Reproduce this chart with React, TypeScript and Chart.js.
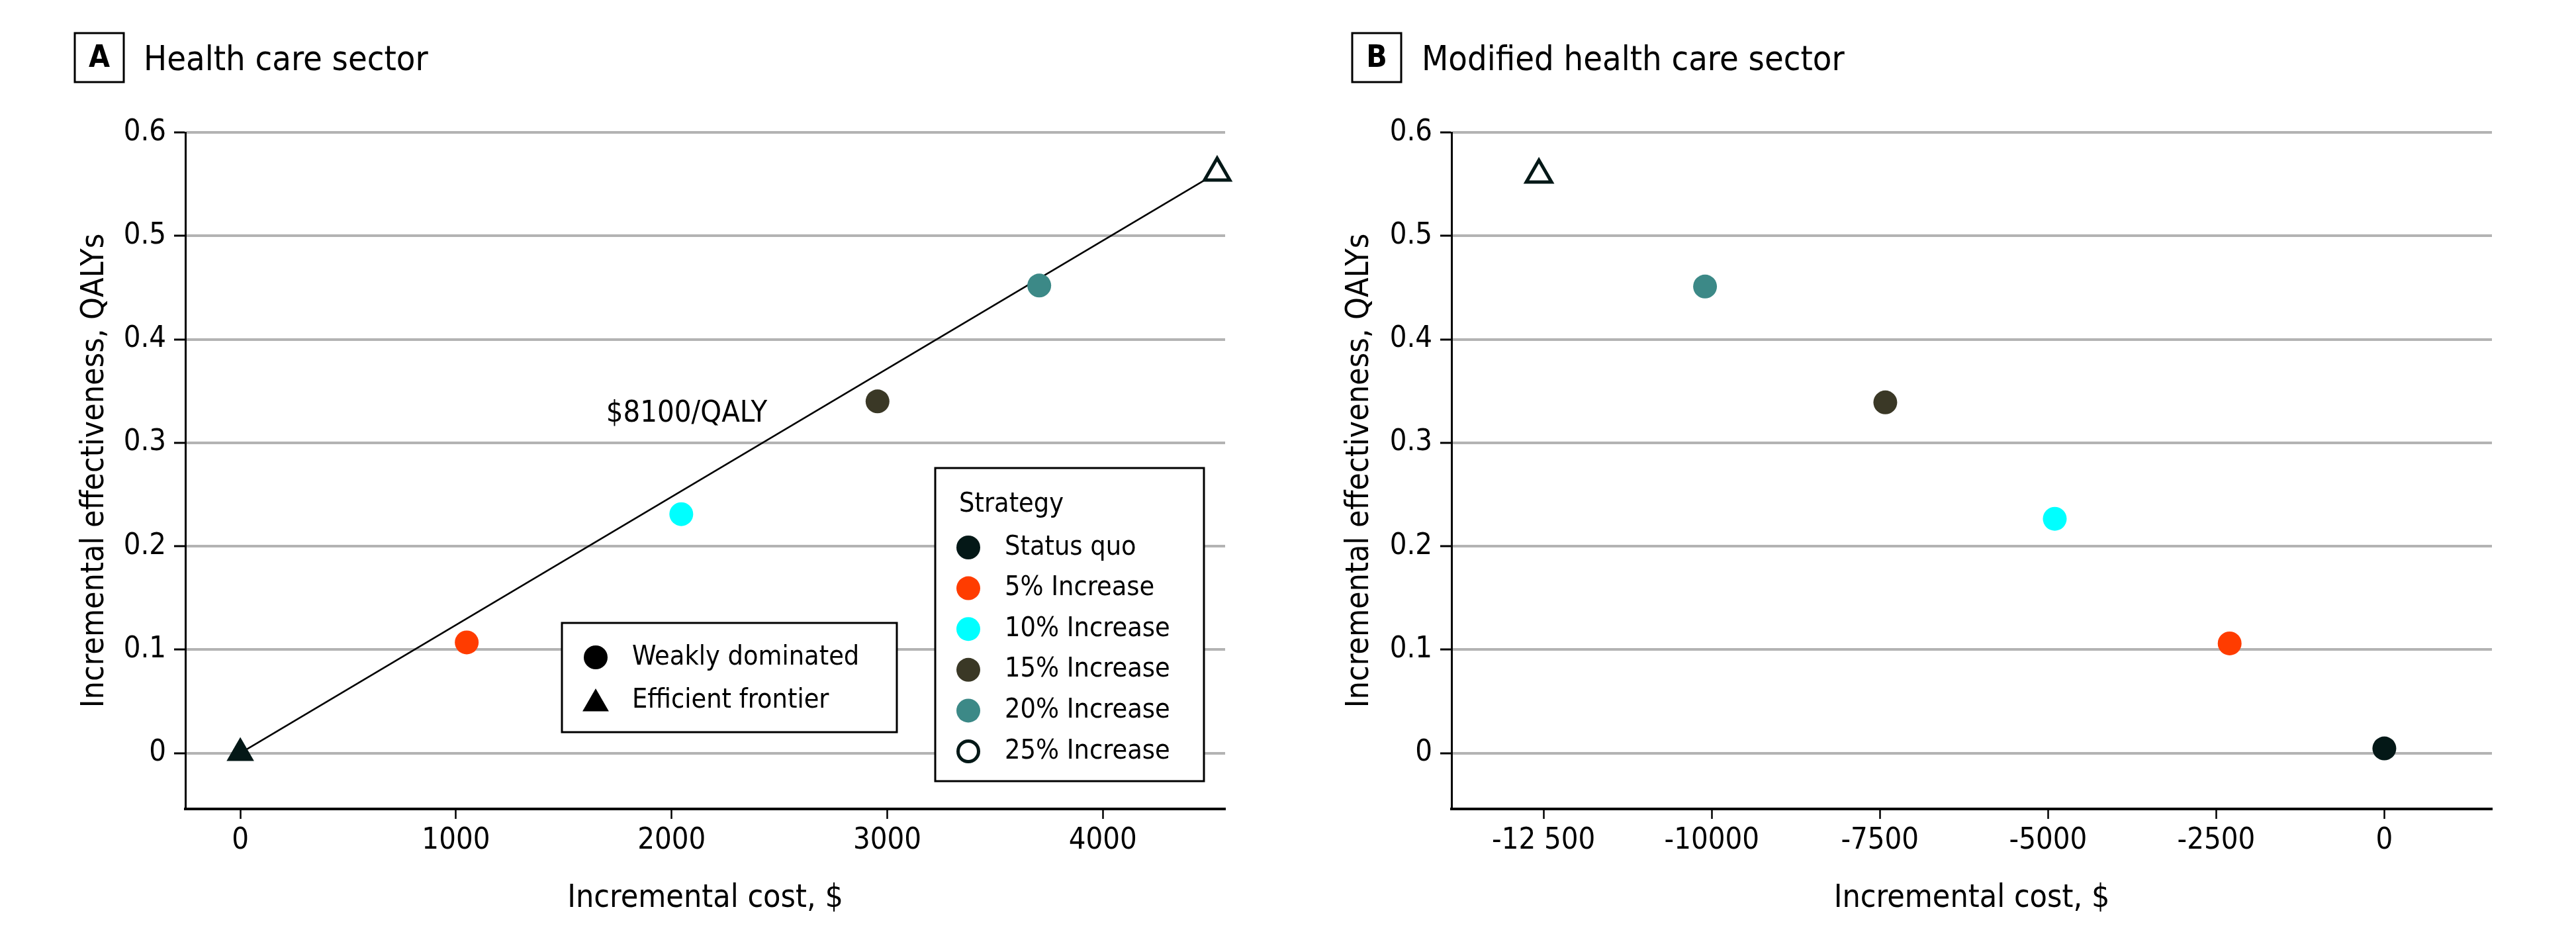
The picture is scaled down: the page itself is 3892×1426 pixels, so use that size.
import React, { useEffect, useRef } from "react";
import { Chart, registerables } from "chart.js";

Chart.register(...registerables);

const FONT = '"DejaVu Sans Condensed", "Liberation Sans Narrow", "DejaVu Sans", sans-serif';

// Strategies shared by both panels
const strategies = ["Status quo", "5% Increase", "10% Increase", "15% Increase", "20% Increase", "25% Increase"];
const strategyColors = ["#041817", "#ff3c00", "#00ffff", "#3a3826", "#3c8987", "#041817"];
const openMarker = [false, false, false, false, false, true];

// Panel A: health care sector
const costA = [0, 1050, 2045, 2955, 3705, 4530];
const qalyA = [0, 0.107, 0.231, 0.34, 0.452, 0.561];
const frontierA = [true, false, false, false, false, true];

// Panel B: modified health care sector
const costB = [0, -2300, -4900, -7420, -10100, -12570];
const qalyB = [0.0045, 0.106, 0.2265, 0.339, 0.451, 0.559];
const frontierB = [false, false, false, false, false, true];

// Axis ticks
const yTicks = [0, 0.1, 0.2, 0.3, 0.4, 0.5, 0.6];
const yTickLabels = ["0", "0.1", "0.2", "0.3", "0.4", "0.5", "0.6"];
const xTicksA = [0, 1000, 2000, 3000, 4000];
const xTickLabelsA = ["0", "1000", "2000", "3000", "4000"];
const xTicksB = [-12500, -10000, -7500, -5000, -2500, 0];
const xTickLabelsB = ["-12 500", "-10000", "-7500", "-5000", "-2500", "0"];

const icerLabel = "$8100/QALY";
const frontierLegend = ["Weakly dominated", "Efficient frontier"];

type Panel = {
  key: string;
  title: string;
  cost: number[];
  qaly: number[];
  frontier: boolean[];
  xTicks: number[];
  xTickLabels: string[];
  xMin: number;
  xMax: number;
  yAxisWidth: number;
  yTitlePad: number;
  rightPad: number;
  boxLeft: number;
  titleLeft: number;
  withLegends: boolean;
};

const panels: Panel[] = [
  {
    key: "A",
    title: "Health care sector",
    cost: costA,
    qaly: qalyA,
    frontier: frontierA,
    xTicks: xTicksA,
    xTickLabels: xTickLabelsA,
    xMin: -255,
    xMax: 4567,
    yAxisWidth: 280,
    yTitlePad: 115,
    rightPad: 95,
    boxLeft: 113,
    titleLeft: 217,
    withLegends: true,
  },
  {
    key: "B",
    title: "Modified health care sector",
    cost: costB,
    qaly: qalyB,
    frontier: frontierB,
    xTicks: xTicksB,
    xTickLabels: xTickLabelsB,
    xMin: -13870,
    xMax: 1600,
    yAxisWidth: 247,
    yTitlePad: 80,
    rightPad: 127,
    boxLeft: 97,
    titleLeft: 202,
    withLegends: false,
  },
];

function triangle(ctx: CanvasRenderingContext2D, x: number, y: number, r: number) {
  ctx.beginPath();
  ctx.moveTo(x, y - r);
  ctx.lineTo(x + 0.866 * r, y + 0.5 * r);
  ctx.lineTo(x - 0.866 * r, y + 0.5 * r);
  ctx.closePath();
}

function overlayPlugin(p: Panel) {
  return {
    id: "overlay" + p.key,
    afterDraw(chart: any) {
      const ctx: CanvasRenderingContext2D = chart.ctx;
      ctx.save();
      // Panel letter box and title
      ctx.strokeStyle = "#000";
      ctx.lineWidth = 3;
      ctx.strokeRect(p.boxLeft, 50, 74, 74);
      ctx.fillStyle = "#000";
      ctx.font = `bold 46px ${FONT}`;
      ctx.textAlign = "center";
      ctx.textBaseline = "middle";
      ctx.fillText(p.key, p.boxLeft + 37, 89);
      ctx.font = `52px ${FONT}`;
      ctx.textAlign = "left";
      ctx.textBaseline = "alphabetic";
      ctx.fillText(p.title, p.titleLeft, 106);

      if (p.withLegends) {
        const xs = chart.scales.x;
        const ys = chart.scales.y;
        // ICER annotation
        ctx.font = `45px ${FONT}`;
        ctx.textAlign = "center";
        ctx.textBaseline = "middle";
        ctx.fillText(icerLabel, xs.getPixelForValue(2070), ys.getPixelForValue(0.328));

        // Marker-shape legend
        ctx.fillStyle = "#fff";
        ctx.fillRect(849, 941, 506, 165);
        ctx.strokeStyle = "#000";
        ctx.lineWidth = 3;
        ctx.strokeRect(849, 941, 506, 165);
        ctx.fillStyle = "#000";
        ctx.beginPath();
        ctx.arc(900, 993, 18, 0, Math.PI * 2);
        ctx.fill();
        triangle(ctx, 900, 1063, 23);
        ctx.fill();
        ctx.font = `41px ${FONT}`;
        ctx.textAlign = "left";
        ctx.textBaseline = "middle";
        ctx.fillText(frontierLegend[0], 955, 993);
        ctx.fillText(frontierLegend[1], 955, 1058);

        // Strategy colour legend
        ctx.fillStyle = "#fff";
        ctx.fillRect(1413, 707, 406, 473);
        ctx.strokeStyle = "#000";
        ctx.lineWidth = 3;
        ctx.strokeRect(1413, 707, 406, 473);
        ctx.fillStyle = "#000";
        ctx.fillText("Strategy", 1449, 762);
        strategies.forEach((name, i) => {
          const y = 827 + i * 61.6;
          ctx.beginPath();
          if (openMarker[i]) {
            ctx.arc(1463, y, 15.5, 0, Math.PI * 2);
            ctx.fillStyle = "#fff";
            ctx.fill();
            ctx.strokeStyle = strategyColors[i];
            ctx.lineWidth = 5;
            ctx.stroke();
          } else {
            ctx.arc(1463, y, 18, 0, Math.PI * 2);
            ctx.fillStyle = strategyColors[i];
            ctx.fill();
          }
          ctx.fillStyle = "#000";
          ctx.fillText(name, 1518, y);
        });
      }
      ctx.restore();
    },
  };
}

function makeConfig(p: Panel): any {
  const datasets: any[] = strategies.map((name, i) => ({
    label: name,
    data: [{ x: p.cost[i], y: p.qaly[i] }],
    pointStyle: p.frontier[i] ? "triangle" : "circle",
    pointRadius: p.frontier[i] ? (openMarker[i] ? 22 : 24) : 18,
    pointHoverRadius: p.frontier[i] ? 22 : 18,
    backgroundColor: openMarker[i] ? "#ffffff" : strategyColors[i],
    borderColor: strategyColors[i],
    borderWidth: openMarker[i] ? 5 : 0,
    clip: false,
    order: 0,
  }));

  if (p.withLegends) {
    // Efficient frontier: line joining the non-dominated strategies
    const pts = p.cost
      .map((c, i) => ({ x: c, y: p.qaly[i], f: p.frontier[i] }))
      .filter((d) => d.f)
      .map((d) => ({ x: d.x, y: d.y }));
    datasets.push({
      label: icerLabel,
      data: pts,
      showLine: true,
      borderColor: "#000",
      borderWidth: 2.5,
      pointRadius: 0,
      clip: false,
      order: 10,
    });
  }

  const tickFont = { family: FONT, size: 45 };
  const titleFont = { family: FONT, size: 48 };

  return {
    type: "scatter",
    data: { datasets },
    options: {
      animation: false,
      responsive: false,
      maintainAspectRatio: false,
      events: [],
      layout: { padding: { left: 0, right: p.rightPad, top: 200, bottom: 0 } },
      plugins: { legend: { display: false }, tooltip: { enabled: false } },
      scales: {
        x: {
          type: "linear",
          min: p.xMin,
          max: p.xMax,
          afterBuildTicks: (s: any) => {
            s.ticks = p.xTicks.map((v) => ({ value: v }));
          },
          afterFit: (s: any) => {
            s.height = 204;
          },
          ticks: {
            autoSkip: false,
            maxRotation: 0,
            color: "#000",
            font: tickFont,
            padding: 6,
            callback: (v: number) => {
              const i = p.xTicks.indexOf(v);
              return i >= 0 ? p.xTickLabels[i] : "";
            },
          },
          grid: { drawOnChartArea: false, drawTicks: true, tickLength: 15, tickColor: "#000", tickWidth: 2.5 },
          border: { display: true, color: "#000", width: 4 },
          title: {
            display: true,
            text: "Incremental cost, $",
            color: "#000",
            font: titleFont,
            padding: { top: 0, bottom: 40 },
          },
        },
        y: {
          type: "linear",
          min: -0.054,
          max: 0.6,
          afterBuildTicks: (s: any) => {
            s.ticks = yTicks.map((v) => ({ value: v }));
          },
          afterFit: (s: any) => {
            s.width = p.yAxisWidth;
          },
          ticks: {
            color: "#000",
            font: tickFont,
            padding: 12,
            callback: (v: number) => {
              const i = yTicks.indexOf(v);
              return i >= 0 ? yTickLabels[i] : "";
            },
          },
          grid: { color: "#b3b3b3", lineWidth: 4, drawTicks: true, tickLength: 17, tickColor: "#000", tickWidth: 3 },
          border: { display: true, color: "#000", width: 3 },
          title: {
            display: true,
            text: "Incremental effectiveness, QALYs",
            color: "#000",
            font: titleFont,
            padding: { top: p.yTitlePad, bottom: 0 },
          },
        },
      },
    },
    plugins: [overlayPlugin(p)],
  };
}

export default function App() {
  const refA = useRef<HTMLCanvasElement>(null);
  const refB = useRef<HTMLCanvasElement>(null);

  useEffect(() => {
    const a = new Chart(refA.current as HTMLCanvasElement, makeConfig(panels[0]));
    const b = new Chart(refB.current as HTMLCanvasElement, makeConfig(panels[1]));
    return () => {
      a.destroy();
      b.destroy();
    };
  }, []);

  return (
    <div style={{ position: "absolute", left: 0, top: 0, width: 3892, height: 1426, background: "#fff", display: "flex" }}>
      <div style={{ width: 1946, height: 1426 }}>
        <canvas ref={refA} width={1946} height={1426} style={{ display: "block" }} />
      </div>
      <div style={{ width: 1946, height: 1426 }}>
        <canvas ref={refB} width={1946} height={1426} style={{ display: "block" }} />
      </div>
    </div>
  );
}
